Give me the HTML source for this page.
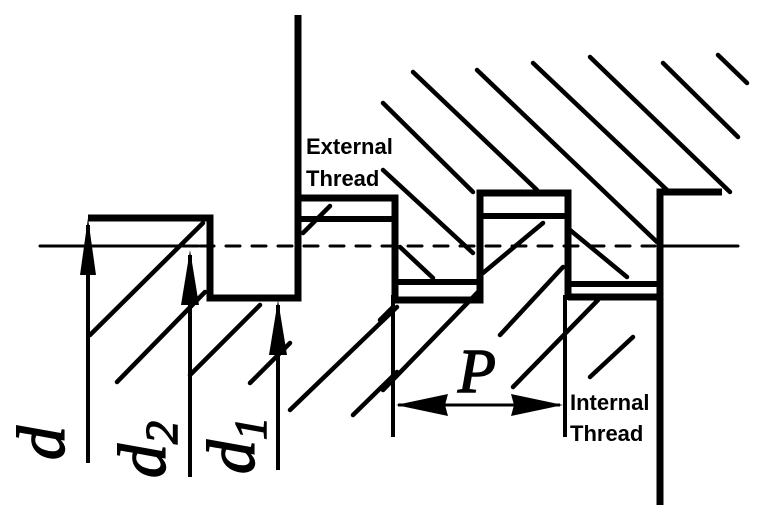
<!DOCTYPE html>
<html><head><meta charset="utf-8"><style>
html,body{margin:0;padding:0;background:#fff;}
svg{display:block;}
</style></head><body>
<svg width="760" height="519" viewBox="0 0 760 519" xmlns="http://www.w3.org/2000/svg">
<g stroke="#000" stroke-width="4.5" stroke-linecap="round" fill="none">
<line x1="383" y1="103" x2="473" y2="192"/>
<line x1="413" y1="72" x2="537" y2="190"/>
<line x1="477" y1="70" x2="657" y2="242"/>
<line x1="533" y1="63" x2="667" y2="190"/>
<line x1="590" y1="57" x2="730" y2="192"/>
<line x1="663" y1="63" x2="738" y2="137"/>
<line x1="718" y1="55" x2="747" y2="83"/>
<line x1="383" y1="170" x2="473" y2="253"/>
<line x1="400" y1="247" x2="433" y2="278"/>
<line x1="570" y1="230" x2="627" y2="277"/>
<line x1="90" y1="335" x2="203" y2="223"/>
<line x1="117" y1="382" x2="205" y2="292"/>
<line x1="190" y1="375" x2="260" y2="305"/>
<line x1="250" y1="383" x2="290" y2="343"/>
<line x1="303" y1="233" x2="330" y2="206"/>
<line x1="290" y1="410" x2="397" y2="307"/>
<line x1="353" y1="415" x2="397" y2="372"/>
<line x1="380" y1="320" x2="393" y2="307"/>
<line x1="383" y1="390" x2="480" y2="290"/>
<line x1="500" y1="335" x2="563" y2="267"/>
<line x1="513" y1="387" x2="598" y2="300"/>
<line x1="590" y1="377" x2="633" y2="337"/>
<line x1="483" y1="273" x2="543" y2="223"/>
<line x1="40" y1="246" x2="198" y2="246" stroke-width="3"/>
<line x1="200" y1="246" x2="655" y2="246" stroke-width="3" stroke-dasharray="14,12"/>
<line x1="660" y1="246" x2="738" y2="246" stroke-width="3"/>
</g>
<g stroke="#000" stroke-width="7" fill="none" stroke-linejoin="miter">
<polyline points="88,218 210,218 210,298 298,298 298,15"/>
<polyline points="298,198 395,198 395,300"/>
<line x1="298" y1="219" x2="395" y2="219" stroke-width="6"/>
<polyline points="395,300 480,300 480,193 568,193 568,300"/>
<line x1="395" y1="282" x2="480" y2="282" stroke-width="6"/>
<line x1="480" y1="216" x2="568" y2="216" stroke-width="6"/>
<polyline points="568,297 660,297"/>
<line x1="568" y1="284" x2="660" y2="284" stroke-width="6"/>
<polyline points="660,505 660,192 722,192"/>
</g>
<g stroke="#000" stroke-width="4" fill="none">
<line x1="393" y1="295" x2="393" y2="437"/>
<line x1="565" y1="295" x2="565" y2="437"/>
<line x1="88" y1="225" x2="88" y2="463"/>
<line x1="190" y1="255" x2="190" y2="477"/>
<line x1="278" y1="305" x2="278" y2="470"/>
<line x1="398" y1="405" x2="560" y2="405" stroke-width="3"/>
</g>
<g fill="#000">
<polygon points="88,218 80,275 96,275"/>
<polygon points="190,250 181,305 199,305"/>
<polygon points="278,300 269,355 287,355"/>
<polygon points="396,405 448,394 445,405 448,416"/>
<polygon points="563,405 511,394 514,405 511,416"/>
</g>
<g font-family="Liberation Serif, serif" font-style="italic" font-size="68" fill="#000" stroke="#000" stroke-width="1.5">
<text transform="translate(64,460) rotate(-90)">d</text>
<text transform="translate(165,478) rotate(-90)">d<tspan font-size="46" dy="12">2</tspan></text>
<text transform="translate(254,474) rotate(-90)">d<tspan font-size="46" dy="12">1</tspan></text>
<text x="458" y="392" font-size="62">P</text>
</g>
<g font-family="Liberation Sans, sans-serif" font-weight="bold" font-size="22" fill="#000">
<text x="306" y="154">External</text>
<text x="306" y="186">Thread</text>
<text x="570" y="410">Internal</text>
<text x="570" y="441">Thread</text>
</g>
</svg>
</body></html>
